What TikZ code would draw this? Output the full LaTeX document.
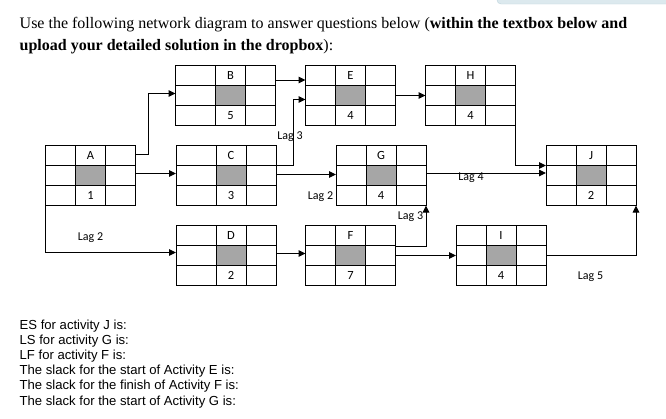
\documentclass[tikz,border=0pt]{standalone}
\usepackage{fontspec}
\setmainfont{Liberation Serif}
\newfontfamily\calib{Carlito}
\newfontfamily\arialf{Liberation Sans}
\usetikzlibrary{arrows.meta,calc}
\definecolor{cellgray}{HTML}{A6A6A6}
\definecolor{tbfill}{HTML}{DCE9EE}
\definecolor{tbdraw}{HTML}{BDD3DC}
\tikzset{
  boxo/.style={draw, line width=1pt, rectangle, minimum height=60pt, inner sep=0pt, outer sep=0pt},
  gridl/.style={line width=1pt},
  conn/.style={line width=1pt},
  arr/.style={line width=1pt, -{Triangle[length=7pt,width=6.5pt]}},
  cellt/.style={font=\calib\fontsize{12.5}{14}\selectfont, inner sep=0pt},
  lagt/.style={font=\calib\fontsize{12}{14}\selectfont, inner sep=0pt},
  headt/.style={font=\fontsize{16}{19}\selectfont, inner sep=0pt, anchor=base west},
  qt/.style={font=\arialf\fontsize{13.1}{15}\selectfont, inner sep=0pt, anchor=base west},
}
% name, x, y, first column width, letter, duration
\newcommand\actbox[6]{%
  \fill[cellgray] (#2+#4,#3+20) rectangle (#2+#4+30,#3+40);
  \node[boxo, minimum width=#4pt+60pt, anchor=north west] (#1) at (#2,#3) {};
  \draw[gridl] (#2+#4,#3) -- (#2+#4,#3+60)
               (#2+#4+30,#3) -- (#2+#4+30,#3+60)
               (#2,#3+20) -- (#2+#4+60,#3+20)
               (#2,#3+40) -- (#2+#4+60,#3+40);
  \node[cellt] (#1-t) at (#2+#4+15,#3+10) {#5};
  \node[cellt] (#1-d) at (#2+#4+15,#3+50) {#6};
}
\begin{document}
\begin{tikzpicture}[x=1pt,y=-1pt]
\useasboundingbox (0,0) rectangle (666,418);
\fill[tbfill, draw=tbdraw, rounded corners=4pt] (497,-12) rectangle (690,4);
% header
\node[headt] (h1) at (19.5,28.5) {Use the following network diagram to answer questions below (\textbf{within the textbox below and}};
\node[headt] (h2) at (19.5,50) {\textbf{upload your detailed solution in the dropbox}):};
% boxes
\actbox{A}{45.5}{145.5}{30}{A}{1}
\actbox{B}{175.5}{65.5}{40}{B}{5}
\actbox{C}{176}{145.5}{40}{C}{3}
\actbox{D}{176}{225.5}{40}{D}{2}
\actbox{E}{305.5}{65.5}{30}{E}{4}
\actbox{F}{305.5}{225.5}{30}{F}{7}
\actbox{G}{336}{145.5}{30}{G}{4}
\actbox{H}{425.5}{65.5}{30}{H}{4}
\actbox{I}{456}{225.5}{30}{I}{4}
\actbox{J}{546}{145.5}{30}{J}{2}
% connectors
\coordinate (ab1) at ([yshift=-8.5pt]A.north east);
\coordinate (ab2) at ($(ab1)+(13,0)$);
\draw[arr] (ab1) -- (ab2) |- ([yshift=2pt]B.west);
\draw[arr] ([yshift=-14.5pt]B.north east) -- ([yshift=-14.5pt]B.north east -| E.west);
\coordinate (ce1) at ([yshift=-20pt]C.north east);
\coordinate (ce2) at ($(ce1)+(17.5,0)$);
\draw[arr] (ce1) -- (ce2) |- ([yshift=-4pt]E.west);
\draw[arr] (E.east) -- (H.west);
\draw[arr] (H.south east) |- ([yshift=-20pt]J.north west);
\draw[arr] ([yshift=2pt]A.east) -- ([yshift=2pt]A.east -| C.west);
\draw[arr] ([yshift=1pt]C.east) -- ([yshift=1pt]C.east -| G.west);
\draw[arr] ([yshift=2.5pt]G.east) -- ([yshift=2.5pt]G.east -| J.west);
\draw[arr] (A.south west) |- ([yshift=3pt]D.west);
\draw[arr] ([yshift=2pt]D.east) -- ([yshift=2pt]D.east -| F.west);
\draw[arr] ([yshift=-20.5pt]F.north east) -| (G.south east);
\draw[arr] (F.east) -- (F.east -| I.west);
\draw[arr] (I.east) -| (J.south east);
% lag labels
\node[lagt] (l1) at (290,136.5) {Lag 3};
\node[lagt] (l2) at (320.5,196.5) {Lag 2};
\node[lagt] (l3) at (471,177.5) {Lag 4};
\node[lagt] (l4) at (90.5,237.5) {Lag 2};
\node[lagt] (l5) at (410.5,216.5) {Lag 3};
\node[lagt] (l6) at (590.5,276.5) {Lag 5};
% questions
\node[qt] (q1) at (19.5,329.5) {ES for activity J is:};
\node[qt] (q2) at (19.5,344.6) {LS for activity G is:};
\node[qt] (q3) at (19.5,359.7) {LF for activity F is:};
\node[qt] (q4) at (19.5,374.8) {The slack for the start of Activity E is:};
\node[qt] (q5) at (19.5,389.9) {The slack for the finish of Activity F is:};
\node[qt] (q6) at (19.5,405) {The slack for the start of Activity G is:};
\end{tikzpicture}
\end{document}
